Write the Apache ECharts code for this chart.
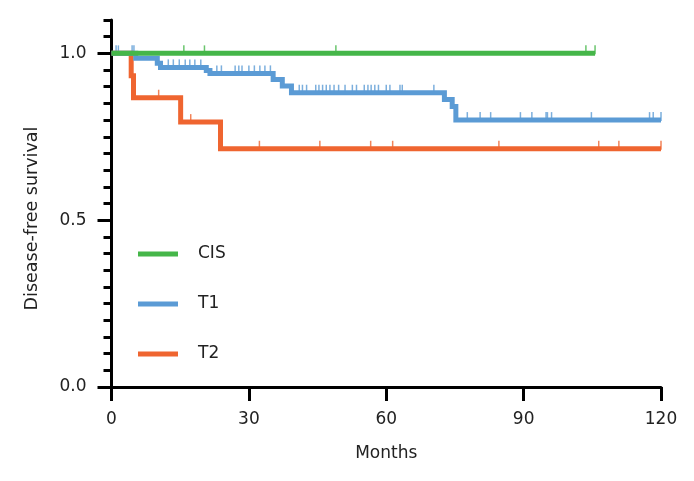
<!DOCTYPE html>
<html>
<head>
<meta charset="utf-8">
<script src="https://cdn.jsdelivr.net/npm/echarts@6/dist/echarts.min.js"></script>
<style>html,body{margin:0;padding:0;background:#fff;}#c{width:694px;height:481px;}</style>
</head>
<body>
<div id="c"></div>
<script>
// ---- data ----
const groups = ['CIS', 'T1', 'T2'];
const xTicks = [0, 30, 60, 90, 120];
const yTickLabels = ['0.0', '0.5', '1.0'];

const cisStepTimes = [0];
const cisStepSurv = [1.0];
const cisEnd = 105.6;
const cisCensor = [15.8, 20.3, 49.0, 103.6, 105.6];

const t1StepTimes = [0, 5.3, 10.0, 10.7, 20.7, 21.5, 35.3, 37.3, 39.3, 72.7, 74.4, 75.2];
const t1StepSurv = [1.0, 0.985, 0.97, 0.958, 0.949, 0.94, 0.922, 0.902, 0.882, 0.862, 0.841, 0.80];
const t1End = 120;
const t1Censor = [1.0, 1.5, 4.5, 4.9, 12.4, 13.5, 14.8, 16.1, 17.1, 18.2, 19.5, 23.0, 24.0, 27.0, 27.8, 28.5, 30.0, 31.2, 32.4, 33.5, 34.7, 41.0, 41.7, 42.6, 44.6, 45.3, 46.1, 46.9, 47.7, 48.6, 49.6, 51.0, 52.6, 53.5, 55.2, 56.0, 56.7, 57.5, 58.3, 60.0, 60.8, 63.0, 63.5, 70.4, 77.7, 80.5, 82.8, 89.3, 91.8, 94.9, 95.2, 96.1, 104.8, 117.5, 118.3, 120];

const t2StepTimes = [0, 4.3, 4.8, 15.1, 23.8];
const t2StepSurv = [1.0, 0.933, 0.867, 0.794, 0.714];
const t2End = 120;
const t2Censor = [10.3, 17.3, 32.3, 45.5, 56.6, 61.4, 84.6, 106.4, 110.8, 120];

const colors = { CIS: '#45b649', T1: '#5b9bd5', T2: '#ef6530' };

// ---- helpers ----
function stepData(times, surv, end) {
  const d = times.map((t, i) => [t, surv[i]]);
  d.push([end, surv[surv.length - 1]]);
  return d;
}
function survAt(times, surv, t) {
  let s = surv[0];
  for (let i = 0; i < times.length; i++) { if (times[i] <= t) s = surv[i]; }
  return s;
}
function censorData(times, surv, cens) {
  return cens.map(t => [t, survAt(times, surv, t)]);
}

const defs = {
  CIS: [cisStepTimes, cisStepSurv, cisEnd, cisCensor],
  T1: [t1StepTimes, t1StepSurv, t1End, t1Censor],
  T2: [t2StepTimes, t2StepSurv, t2End, t2Censor]
};

const series = [];
groups.forEach(g => {
  const [ts, ss, end, cens] = defs[g];
  series.push({
    name: g + ' censored', type: 'scatter', z: 2, silent: true,
    symbol: 'rect', symbolSize: [1.5, 9], symbolOffset: [0, -3.5],
    itemStyle: { color: colors[g] },
    data: censorData(ts, ss, cens)
  });
});
// draw order: T2, T1, CIS (CIS on top)
['T2', 'T1', 'CIS'].forEach(g => {
  const [ts, ss, end] = defs[g];
  series.push({
    name: g, type: 'line', step: 'end', z: 3, showSymbol: false, symbol: 'none',
    lineStyle: { color: colors[g], width: 5, cap: 'butt', join: 'miter' },
    itemStyle: { color: colors[g] },
    data: stepData(ts, ss, end)
  });
});

const FONT = 'DejaVu Sans';
const chart = echarts.init(document.getElementById('c'), null, { renderer: 'canvas' });
chart.setOption({
  animation: false,
  backgroundColor: '#ffffff',
  grid: { left: 111.5, right: 33, top: 20, bottom: 94, containLabel: false },
  legend: {
    data: groups, orient: 'vertical', left: 133, top: 239,
    itemWidth: 40, itemHeight: 5, itemGap: 30, icon: 'rect',
    textStyle: { fontFamily: FONT, fontSize: 17, color: '#222', padding: [0, 0, 0, 15], lineHeight: 20 },
    selectedMode: false
  },
  xAxis: {
    type: 'value', min: 0, max: 120, interval: 30,
    name: 'Months', nameLocation: 'middle', nameGap: 58,
    nameTextStyle: { fontFamily: FONT, fontSize: 17, color: '#222' },
    axisLine: { show: true, onZero: false, lineStyle: { color: '#000', width: 3 } },
    axisTick: { show: true, length: 14, lineStyle: { color: '#000', width: 3 } },
    axisLabel: { margin: 24, fontFamily: FONT, fontSize: 17, color: '#222',
      formatter: v => xTicks.indexOf(v) >= 0 ? String(v) : '' },
    splitLine: { show: false }
  },
  yAxis: [{
    type: 'value', min: 0, max: 1.1, interval: 0.05,
    name: 'Disease-free survival', nameLocation: 'middle', nameGap: 70,
    nameTextStyle: { fontFamily: FONT, fontSize: 17.5, color: '#222', padding: [0, 30, 0, 0] },
    axisLine: { show: true, onZero: false, lineStyle: { color: '#000', width: 3 } },
    axisTick: { show: true, length: 8, lineStyle: { color: '#000', width: 3 } },
    axisLabel: { margin: 25, fontFamily: FONT, fontSize: 17, color: '#222',
      formatter: v => {
        const i = [0, 0.5, 1].findIndex(x => Math.abs(x - v) < 1e-6);
        return i >= 0 ? yTickLabels[i] : '';
      } },
    splitLine: { show: false }
  }, {
    type: 'value', min: 0, max: 1.1, position: 'left',
    axisLine: { show: false },
    axisTick: { show: true, length: 14, customValues: [0, 0.5, 1.0], lineStyle: { color: '#000', width: 3 } },
    axisLabel: { show: false },
    splitLine: { show: false }
  }],
  series: series
});
</script>
</body>
</html>
